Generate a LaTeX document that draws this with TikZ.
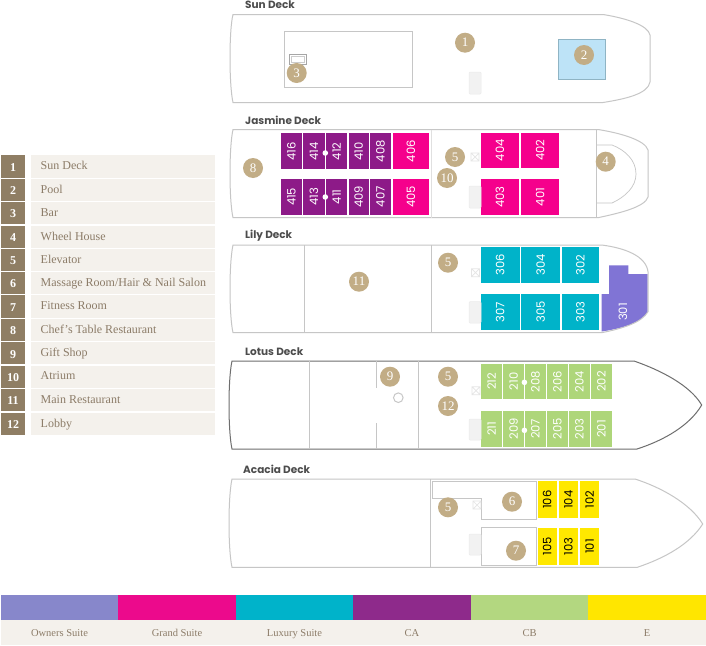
\documentclass[tikz,border=0pt]{standalone}
\usepackage{fontspec}
\setmainfont{Liberation Serif}
\newfontfamily\deckfont{Poppins}
\definecolor{hull}{HTML}{C6C6C6}
\definecolor{hulldark}{HTML}{6E6E6E}
\definecolor{badge}{HTML}{C2AD86}
\definecolor{legdark}{HTML}{8F7E64}
\definecolor{leglight}{HTML}{F4F1EC}
\definecolor{legtext}{HTML}{8C7C68}
\definecolor{cOwner}{HTML}{8787CB}
\definecolor{cGrand}{HTML}{EC0A8C}
\definecolor{cLux}{HTML}{00B3CA}
\definecolor{cCA}{HTML}{8E2A8B}
\definecolor{cCB}{HTML}{B3D780}
\definecolor{cE}{HTML}{FFE600}
\definecolor{rPurple}{HTML}{8D1A88}
\definecolor{rPink}{HTML}{F5008C}
\definecolor{rTeal}{HTML}{00B3C9}
\definecolor{rGreen}{HTML}{AED67A}
\definecolor{rYellow}{HTML}{FFE800}
\definecolor{rOwner}{HTML}{8074D5}
\definecolor{rPool}{HTML}{BDE3F7}
\definecolor{pooledge}{HTML}{8FB4C4}
\tikzset{
  hullline/.style={draw=hull,line width=1pt},
  hulllinedark/.style={draw=hulldark,line width=1pt},
  partition/.style={draw=hull,line width=0.9pt},
  decktitle/.style={font=\deckfont\bfseries\fontsize{10.5}{12}\selectfont,text=black!70,anchor=west,inner sep=0pt},
  numbadge/.style={circle,fill=badge,minimum size=20pt,inner sep=0pt,text=white,font=\fontsize{13}{14}\selectfont},
  roomlabel/.style={rotate=90,inner sep=0pt,font=\deckfont\fontsize{11.5}{12}\selectfont,text=white},
  darklabel/.style={rotate=90,inner sep=0pt,text=black,font=\deckfont\fontsize{11.5}{12}\selectfont},
  stair/.style={fill=black!5,draw=black!8,line width=0.5pt,rounded corners=1pt},
  whitedots/.style={draw=white,line width=1.2pt,dash pattern=on 1.2pt off 1.2pt},
  legnum/.style={text=white,inner sep=0pt,font=\fontsize{12}{14}\selectfont\bfseries},
  legtxt/.style={text=legtext,inner sep=0pt,anchor=base west,font=\fontsize{12}{14}\selectfont},
  catlabel/.style={text=legtext,inner sep=0pt,anchor=base,font=\fontsize{10.5}{12}\selectfont},
}
% room: colour, label style, x1, x2, y1, y2, number
\newcommand{\Room}[7]{%
  \fill[#1] (#3,#5) rectangle (#4,#6);
  \node[#2] (r#7) at ({(#3+#4)/2},{(#5+#6)/2}) {#7};}
% elevator mark
\newcommand{\Lift}[2]{%
  \draw[draw=black!10,line width=0.7pt] (#1-4,#2-4) rectangle (#1+4,#2+4)
    (#1-4,#2-4) -- (#1+4,#2+4) (#1+4,#2-4) -- (#1-4,#2+4);}
% white dotted divider with central dot
\newcommand{\Divider}[4]{%
  \draw[whitedots] (#1,#2) -- (#1,#3);
  \fill[white] (#1,#4) circle (2.8pt);}
\begin{document}
\begin{tikzpicture}[x=1pt,y=-1pt]
\useasboundingbox (0,0) rectangle (706,645);
\fill[white] (0,0) rectangle (706,645);

%% Legend
\foreach \i/\t/\b/\lab in {
 1/155/177.7/{Sun Deck}, 2/179/201/{Pool}, 3/201.7/224/{Bar}, 4/226/247.7/{Wheel House},
 5/249/270.7/{Elevator}, 6/272/294/{Massage Room/Hair \& Nail Salon}, 7/295.3/317.7/{Fitness Room},
 8/319/341/{Chef’s Table Restaurant}, 9/342.3/364.3/{Gift Shop}, 10/365.7/387.7/{Atrium},
 11/389/411/{Main Restaurant}, 12/413/435/{Lobby}}{
  \fill[legdark] (1,\t) rectangle (25,\b);
  \fill[leglight] (31,\t) rectangle (215,\b);
  \node[legnum] (ln\i) at (13,{(\t+\b)/2+1}) {\i};
  \node[legtxt] (lt\i) at (40.5,{(\t+\b)/2+3.2}) {\lab};
}

%% Category bar
\foreach \n/\a/\b/\c/\lab in {
 a/1/118/cOwner/{Owners Suite}, b/118/236/cGrand/{Grand Suite}, c/236/353/cLux/{Luxury Suite},
 d/353/471/cCA/{CA}, e/471/588/cCB/{CB}, f/588/706/cE/{E}}{
  \fill[\c] (\a,595) rectangle (\b,620);
  \fill[leglight] (\a,620) rectangle (\b,645);
  \node[catlabel] (cat\n) at ({(\a+\b)/2},636) {\lab};
}

%% Sun Deck
\node[decktitle] (t1) at (245,5) {Sun Deck};
\draw[hullline] (233,14.5) -- (603,14.5) .. controls (625,18) and (648,25) .. (650,35)
  -- (650,82) .. controls (648,94) and (625,99) .. (603,102.5) -- (233,102.5)
  .. controls (229,85) and (229,30) .. (233,14.5) -- cycle;
\draw[partition] (284.3,31.7) rectangle (412,87.7);
\draw[draw=black!35,line width=0.6pt] (289.5,54) rectangle (306,64);
\draw[draw=black!20,line width=0.6pt] (291.5,56) rectangle (304,62);
\fill[stair] (469,72) rectangle (481,94);
\draw[draw=pooledge,fill=rPool,line width=0.7pt] (558.3,39) rectangle (605.7,79.5);
\node[numbadge] (b1) at (465,42.7) {1};
\node[numbadge] (b2) at (584,55) {2};
\node[numbadge] (b3) at (296.7,73) {3};

%% Jasmine Deck
\node[decktitle] (t2) at (245,120) {Jasmine Deck};
\draw[hullline] (233,129.5) -- (598,129.5) .. controls (620,133) and (645,140) .. (648,150)
  -- (648,197) .. controls (645,207) and (620,213) .. (598,217.7) -- (233,217.7)
  .. controls (229,200) and (229,147) .. (233,129.5) -- cycle;
\draw[partition] (596.7,129.5) -- (596.7,217.7);
\draw[partition,line width=0.7pt] (597,145) -- (612,145) .. controls (625,150) and (636,160) .. (636,174)
  .. controls (636,187) and (625,197) .. (612,203) -- (597,203);
\draw[draw=black!12,line width=0.8pt] (431,129.5) -- (431,217.7);
\foreach \n/\a/\b in {416/281/302,414/303.4/324.6,412/326/347.3,410/348.5/368.7,408/370/391}{
  \Room{rPurple}{roomlabel}{\a}{\b}{133.3}{169.3}{\n}}
\foreach \n/\a/\b in {415/281/302,413/303.4/324.6,411/326/347.3,409/348.5/368.7,407/370/391}{
  \Room{rPurple}{roomlabel}{\a}{\b}{178.7}{215}{\n}}
\Room{rPink}{roomlabel}{392.7}{429}{133.3}{169.3}{406}
\Room{rPink}{roomlabel}{392.7}{429}{178.7}{215}{405}
\Room{rPink}{roomlabel}{480.7}{519.3}{132.5}{168}{404}
\Room{rPink}{roomlabel}{521}{559.3}{132.5}{168}{402}
\Room{rPink}{roomlabel}{480.7}{519.3}{179.3}{215}{403}
\Room{rPink}{roomlabel}{521}{559.3}{179.3}{215}{401}
\Divider{325.3}{133.3}{169.3}{153}
\Divider{325.3}{178.7}{215}{197}
\Lift{475}{157}
\fill[stair] (469,186) rectangle (481,208);
\node[numbadge] (b8) at (253,168) {8};
\node[numbadge] (b5a) at (455,157) {5};
\node[numbadge] (b10) at (447,178) {10};
\node[numbadge] (b4) at (605.7,161.7) {4};

%% Lily Deck
\node[decktitle] (t3) at (245,235.5) {Lily Deck};
\fill[rOwner] (609,265.3) -- (628.3,265.3) -- (628.3,274) -- (647.7,274) -- (647.7,311.7)
  .. controls (642,322) and (625,328) .. (601.7,331.5) -- (601.7,294) -- (609,294) -- cycle;
\node[roomlabel] (r301) at (623,312) {301};
\draw[hullline] (233,245) -- (601.7,245) .. controls (625,248) and (646,256) .. (648,271.7)
  -- (648,311.7) .. controls (642,322) and (625,328) .. (601.7,332.7) -- (233,332.7)
  .. controls (229,315) and (229,263) .. (233,245) -- cycle;
\draw[partition] (304,245) -- (304,332.7);
\draw[partition] (431,245) -- (431,332.7);
\foreach \n/\a/\b in {306/481/519.5,304/521.3/560,302/562/599}{
  \Room{rTeal}{roomlabel}{\a}{\b}{247.3}{282.7}{\n}}
\foreach \n/\a/\b in {307/481/519.5,305/521.3/560,303/562/599}{
  \Room{rTeal}{roomlabel}{\a}{\b}{294.3}{329.7}{\n}}
\Lift{475.5}{272.7}
\fill[stair] (469,301.7) rectangle (481,323);
\node[numbadge] (b11) at (359,281.7) {11};
\node[numbadge] (b5b) at (448,262.7) {5};

%% Lotus Deck
\node[decktitle] (t4) at (245,351.5) {Lotus Deck};
\draw[hulllinedark] (232,361) -- (634,361) .. controls (660,370) and (690,385) .. (701.7,405)
  .. controls (690,425) and (665,440) .. (637,449) -- (232,449)
  .. controls (228,431) and (228,379) .. (232,361) -- cycle;
\draw[partition] (309.7,361) -- (309.7,449);
\draw[partition] (376,361) -- (376,387.7);
\draw[partition] (376,423.3) -- (376,449);
\draw[partition] (418.3,361) -- (418.3,449);
\draw[draw=black!22,line width=1pt] (398.3,397.7) circle (4.8pt);
\foreach \n/\a/\b in {212/481/502.3,210/503.3/524,208/525/546,206/547.3/567.5,204/569/590,202/591/611.7}{
  \Room{rGreen}{roomlabel}{\a}{\b}{363.7}{399.3}{\n}}
\foreach \n/\a/\b in {211/481/502.3,209/503.3/524,207/525/546,205/547.3/567.5,203/569/590,201/591/611.7}{
  \Room{rGreen}{roomlabel}{\a}{\b}{411}{446.7}{\n}}
\Divider{524.4}{363.7}{399.3}{382.3}
\Divider{524.4}{411}{446.7}{430.3}
\Lift{476}{390.7}
\fill[stair] (469,419) rectangle (481,440);
\node[numbadge] (b9) at (390,376.7) {9};
\node[numbadge] (b5c) at (448,376.7) {5};
\node[numbadge] (b12) at (448,406) {12};

%% Acacia Deck
\node[decktitle] (t5) at (243,469.5) {Acacia Deck};
\draw[hullline] (232,479) -- (635,479) .. controls (660,487) and (690,503) .. (702.7,524)
  .. controls (690,544) and (665,558) .. (637.3,567.3) -- (232,567.3)
  .. controls (228,549) and (228,497) .. (232,479) -- cycle;
\draw[partition] (430.3,479) -- (430.3,567.3);
\draw[partition] (432.7,481.7) -- (536.7,481.7) -- (536.7,519.3) -- (481,519.3) -- (481,498.3)
  -- (432.7,498.3) -- cycle;
\draw[partition] (481,527.3) rectangle (536.7,565);
\foreach \n/\a/\b in {106/537.7/556.7,104/559/577.7,102/580/599.3}{
  \Room{rYellow}{darklabel}{\a}{\b}{481}{518.3}{\n}}
\foreach \n/\a/\b in {105/537.7/556.7,103/559/577.7,101/580/599.3}{
  \Room{rYellow}{darklabel}{\a}{\b}{528}{565}{\n}}
\Lift{477}{505}
\fill[stair] (469,534) rectangle (481,555);
\node[numbadge] (b5d) at (448,507.3) {5};
\node[numbadge] (b6) at (512,501.7) {6};
\node[numbadge] (b7) at (516,550.7) {7};
\end{tikzpicture}
\end{document}
